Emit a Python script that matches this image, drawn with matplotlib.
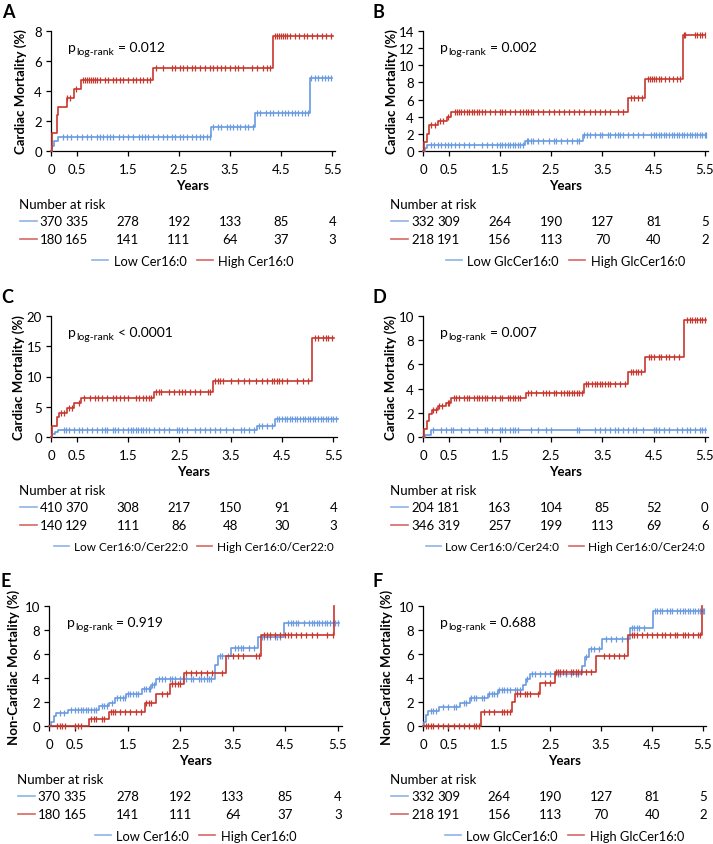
import numpy as np
import matplotlib
matplotlib.use('Agg')
import matplotlib.pyplot as plt
from matplotlib import transforms
from matplotlib.lines import Line2D

plt.rcParams['font.family'] = ['Lato', 'DejaVu Sans']

RED = '#C8372D'
BLUE = '#6A9AE0'

# ---------------- data ----------------
x_ticks = [0, 0.5, 1.5, 2.5, 3.5, 4.5, 5.5]
x_tick_labels = ['0', '0.5', '1.5', '2.5', '3.5', '4.5', '5.5']

# Panel A
a_low_t = [0, 0.02, 0.06, 0.13, 3.12, 3.98, 5.06, 5.50]
a_low_y = [0, 0.35, 0.65, 0.95, 1.6, 2.55, 4.85, 4.85]
a_low_c = [0.24, 0.31, 0.40, 0.50, 0.60, 0.70, 0.79, 0.89, 0.96, 1.02, 1.09, 1.15, 1.22, 1.32, 1.41,
           1.51, 1.61, 1.71, 1.77, 1.84, 1.90, 2.00, 2.10, 2.19, 2.26, 2.36, 2.42, 2.52, 2.58, 2.65,
           2.75, 2.84, 2.91, 2.98, 3.04, 3.11, 3.17, 3.27, 3.33, 3.43, 3.50, 3.56, 3.63, 3.69, 3.79,
           3.85, 3.95, 4.02, 4.08, 4.21, 4.28, 4.34, 4.44, 4.51, 4.57, 4.64, 4.70, 4.77, 4.83, 4.90,
           4.96, 5.03, 5.09, 5.16, 5.22, 5.29, 5.35, 5.42, 5.48]
a_high_t = [0, 0.02, 0.11, 0.14, 0.31, 0.45, 0.59, 2.00, 4.34, 5.51]
a_high_y = [0, 1.2, 2.4, 2.95, 3.55, 4.15, 4.75, 5.55, 7.7, 7.7]
a_high_c = [0.31, 0.37, 0.49, 0.62, 0.66, 0.70, 0.74, 0.78, 0.82, 0.86, 0.89, 0.96, 1.05, 1.12, 1.22,
            1.28, 1.35, 1.41, 1.51, 1.61, 1.67, 1.74, 1.80, 1.87, 1.93, 2.06, 2.19, 2.36, 2.42, 2.52,
            2.58, 2.65, 2.75, 2.81, 2.91, 3.01, 3.11, 3.17, 3.24, 3.33, 3.40, 3.50, 3.59, 3.66, 3.76,
            3.92, 4.02, 4.15, 4.22, 4.28, 4.38, 4.42, 4.46, 4.50, 4.54, 4.58, 4.62, 4.68, 4.77, 4.85,
            4.94, 5.00, 5.10, 5.19, 5.29, 5.38, 5.47]
a_low_risk = [370, 335, 278, 192, 133, 85, 4]
a_high_risk = [180, 165, 141, 111, 64, 37, 3]

# Panel B
b_low_t = [0, 0.03, 0.07, 1.99, 3.12, 5.53]
b_low_y = [0, 0.4, 0.75, 1.2, 1.9, 1.9]
b_low_c = [0.15, 0.22, 0.30, 0.36, 0.42, 0.48, 0.55, 0.62, 0.70, 0.80, 0.90, 1.00, 1.15, 1.25, 1.35,
           1.45, 1.50, 1.55, 1.60, 1.65, 1.70, 1.75, 1.80, 1.85, 1.90, 1.95, 2.02, 2.05, 2.10, 2.15,
           2.25, 2.35, 2.45, 2.55, 2.60, 2.70, 2.80, 2.90, 3.00, 3.05, 3.15, 3.20, 3.25, 3.35, 3.45,
           3.50, 3.60, 3.65, 3.75, 3.80, 3.85, 3.90, 4.00, 4.10, 4.20, 4.30, 4.45, 4.50, 4.55, 4.60,
           4.65, 4.70, 4.75, 4.80, 4.85, 4.90, 4.95, 5.00, 5.05, 5.10, 5.15, 5.20, 5.25, 5.30, 5.35,
           5.40, 5.45, 5.50, 5.53]
b_high_t = [0, 0.01, 0.08, 0.11, 0.29, 0.46, 0.55, 4.00, 4.33, 5.08, 5.50]
b_high_y = [0, 1.1, 2.0, 3.0, 3.5, 4.0, 4.55, 6.2, 8.35, 13.5, 13.5]
b_high_c = [0.16, 0.23, 0.33, 0.39, 0.49, 0.62, 0.66, 0.70, 0.75, 0.80, 0.85, 0.90, 0.95, 1.00, 1.05,
            1.10, 1.15, 1.20, 1.30, 1.40, 1.50, 1.55, 1.60, 1.70, 1.80, 1.90, 1.95, 2.00, 2.05, 2.10,
            2.15, 2.25, 2.35, 2.45, 2.55, 2.65, 2.75, 2.85, 2.95, 3.05, 3.15, 3.25, 3.35, 3.45, 3.55,
            3.65, 3.80, 3.90, 4.05, 4.12, 4.20, 4.27, 4.38, 4.42, 4.46, 4.50, 4.55, 4.60, 4.65, 4.72,
            4.80, 4.88, 4.95, 5.02, 5.10, 5.12, 5.30, 5.35, 5.40, 5.45, 5.50]
b_low_risk = [332, 309, 264, 190, 127, 81, 5]
b_high_risk = [218, 191, 156, 113, 70, 40, 2]

# Panel C
c_low_t = [0, 0.02, 0.07, 0.14, 4.02, 4.36, 5.58]
c_low_y = [0, 0.5, 0.9, 1.1, 1.9, 3.0, 3.0]
c_low_c = [0.25, 0.30, 0.35, 0.45, 0.55, 0.60, 0.70, 0.80, 0.90, 1.00, 1.05, 1.10, 1.20, 1.25, 1.30,
           1.40, 1.50, 1.55, 1.60, 1.65, 1.70, 1.75, 1.80, 1.85, 1.90, 2.00, 2.10, 2.20, 2.30, 2.45,
           2.50, 2.55, 2.65, 2.80, 2.90, 3.00, 3.10, 3.20, 3.30, 3.40, 3.55, 3.70, 3.75, 3.85, 3.95,
           4.05, 4.10, 4.20, 4.30, 4.40, 4.45, 4.50, 4.55, 4.60, 4.65, 4.70, 4.75, 4.80, 4.85, 4.90,
           4.95, 5.00, 5.05, 5.10, 5.15, 5.20, 5.25, 5.30, 5.35, 5.40, 5.45, 5.50, 5.55]
c_high_t = [0, 0.01, 0.11, 0.15, 0.31, 0.45, 0.59, 2.00, 3.15, 5.09, 5.52]
c_high_y = [0, 1.8, 3.3, 4.0, 4.8, 5.6, 6.4, 7.4, 9.2, 16.3, 16.3]
c_high_c = [0.20, 0.25, 0.35, 0.40, 0.55, 0.65, 0.75, 0.85, 0.92, 1.00, 1.10, 1.20, 1.27, 1.35, 1.42,
            1.50, 1.65, 1.72, 1.80, 1.85, 1.90, 1.95, 2.05, 2.10, 2.15, 2.30, 2.40, 2.50, 2.55, 2.60,
            2.70, 2.80, 2.90, 3.05, 3.10, 3.20, 3.25, 3.30, 3.35, 3.50, 3.65, 3.75, 3.85, 4.00, 4.10,
            4.20, 4.30, 4.35, 4.40, 4.45, 4.50, 4.60, 4.80, 4.90, 5.00, 5.15, 5.20, 5.30, 5.35, 5.40,
            5.48]
c_low_risk = [410, 370, 308, 217, 150, 91, 4]
c_high_risk = [140, 129, 111, 86, 48, 30, 3]

# Panel D
d_low_t = [0, 0.03, 0.15, 5.53]
d_low_y = [0, 0.15, 0.6, 0.6]
d_low_c = [0.20, 0.35, 0.45, 0.55, 0.58, 0.75, 0.90, 1.05, 1.20, 1.25, 1.35, 1.50, 1.55, 1.60, 1.70,
           1.75, 1.80, 1.85, 2.10, 2.25, 2.40, 2.50, 3.00, 3.05, 3.35, 3.45, 3.55, 3.65, 3.75, 3.80,
           3.90, 4.00, 4.10, 4.15, 4.30, 4.50, 4.55, 4.60, 4.70, 4.80, 4.95, 5.05, 5.15, 5.20, 5.30,
           5.40, 5.45, 5.50]
d_high_t = [0, 0.01, 0.07, 0.11, 0.18, 0.29, 0.44, 0.55, 2.00, 3.14, 4.00, 4.33, 5.09, 5.53]
d_high_y = [0, 0.7, 1.3, 1.9, 2.2, 2.55, 2.85, 3.2, 3.6, 4.4, 5.4, 6.6, 9.65, 9.65]
d_high_c = [0.20, 0.25, 0.32, 0.38, 0.48, 0.50, 0.60, 0.65, 0.70, 0.80, 0.85, 0.90, 1.00, 1.05, 1.10,
            1.15, 1.20, 1.25, 1.35, 1.40, 1.50, 1.55, 1.65, 1.70, 1.75, 1.80, 1.85, 1.90, 2.05, 2.10,
            2.20, 2.35, 2.40, 2.45, 2.55, 2.60, 2.70, 2.75, 2.80, 2.85, 2.90, 2.95, 3.00, 3.05, 3.10,
            3.18, 3.22, 3.30, 3.35, 3.40, 3.45, 3.50, 3.55, 3.60, 3.65, 3.75, 3.85, 3.95, 4.05, 4.10,
            4.15, 4.20, 4.25, 4.40, 4.45, 4.50, 4.60, 4.65, 4.75, 4.80, 4.90, 5.00, 5.15, 5.20, 5.25,
            5.30, 5.35, 5.40, 5.45, 5.50]
d_low_risk = [204, 181, 163, 104, 85, 52, 0]
d_high_risk = [346, 319, 257, 199, 113, 69, 6]

# Panel E
e_low_t = [0, 0.03, 0.10, 0.14, 0.36, 0.95, 1.15, 1.25, 1.47, 1.77, 1.95, 2.04, 3.17, 3.22, 3.47,
           3.98, 4.47, 5.52]
e_low_y = [0, 0.3, 0.8, 1.05, 1.35, 1.65, 1.95, 2.3, 2.65, 3.05, 3.4, 3.9, 5.1, 5.8, 6.5, 7.45,
           8.6, 8.6]
e_low_c = [0.20, 0.28, 0.42, 0.50, 0.55, 0.60, 0.65, 0.70, 0.75, 0.80, 0.85, 0.90, 1.00, 1.05, 1.10,
           1.20, 1.30, 1.35, 1.40, 1.45, 1.50, 1.55, 1.60, 1.65, 1.70, 1.80, 1.85, 1.90, 1.93, 1.97,
           2.00, 2.10, 2.15, 2.20, 2.30, 2.35, 2.40, 2.50, 2.55, 2.60, 2.70, 2.75, 2.85, 2.90, 2.95,
           3.00, 3.05, 3.08, 3.25, 3.30, 3.40, 3.55, 3.60, 3.65, 3.70, 3.80, 3.90, 4.05, 4.10, 4.15,
           4.20, 4.30, 4.35, 4.40, 4.55, 4.60, 4.65, 4.70, 4.75, 4.85, 4.95, 5.00, 5.05, 5.10, 5.15,
           5.20, 5.25, 5.30, 5.35, 5.40, 5.45, 5.50]
e_high_t = [0, 0.76, 1.14, 1.82, 2.04, 2.30, 2.57, 3.38, 4.03, 5.42]
e_high_y = [0, 0.6, 1.2, 1.95, 2.7, 3.5, 4.45, 5.85, 7.55, 10.0]
e_high_c = [0.15, 0.20, 0.25, 0.30, 0.50, 0.55, 0.60, 0.80, 0.85, 0.90, 1.00, 1.05, 1.18, 1.22, 1.25,
            1.35, 1.45, 1.55, 1.65, 1.75, 1.85, 1.90, 1.95, 2.15, 2.25, 2.35, 2.40, 2.45, 2.50, 2.60,
            2.70, 2.80, 2.90, 3.00, 3.10, 3.30, 3.50, 3.60, 3.70, 3.95, 4.00, 4.10, 4.15, 4.20, 4.30,
            4.40, 4.50, 4.55, 4.60, 4.70, 4.80, 4.90, 5.00, 5.10, 5.30, 5.40]
e_low_risk = [370, 335, 278, 192, 133, 85, 4]
e_high_risk = [180, 165, 141, 111, 64, 37, 3]

# Panel F
f_low_t = [0, 0.02, 0.06, 0.10, 0.31, 0.73, 0.93, 1.27, 1.48, 1.97, 2.02, 2.10, 3.12, 3.19, 3.27,
           3.51, 4.06, 4.51, 5.53]
f_low_y = [0, 0.3, 0.9, 1.25, 1.55, 1.9, 2.3, 2.65, 3.0, 3.45, 3.9, 4.35, 5.0, 5.75, 6.45, 7.25,
           8.2, 9.55, 9.55]
f_low_c = [0.15, 0.20, 0.25, 0.40, 0.50, 0.60, 0.65, 0.80, 0.85, 0.95, 1.00, 1.05, 1.15, 1.20, 1.30,
           1.35, 1.40, 1.45, 1.50, 1.55, 1.60, 1.65, 1.70, 1.80, 1.85, 1.90, 2.05, 2.15, 2.20, 2.30,
           2.40, 2.50, 2.60, 2.65, 2.70, 2.80, 2.90, 3.00, 3.05, 3.20, 3.30, 3.35, 3.45, 3.60, 3.70,
           3.80, 3.90, 4.00, 4.10, 4.15, 4.20, 4.25, 4.35, 4.55, 4.60, 4.65, 4.70, 4.80, 4.85, 4.90,
           5.00, 5.05, 5.10, 5.15, 5.20, 5.25, 5.30, 5.35, 5.40, 5.45, 5.50, 5.53]
f_high_t = [0, 1.14, 1.74, 1.80, 2.30, 2.59, 3.40, 4.03, 5.48]
f_high_y = [0, 1.2, 2.0, 2.7, 3.55, 4.5, 5.85, 7.55, 10.0]
f_high_c = [0.05, 0.10, 0.15, 0.20, 0.30, 0.40, 0.50, 0.60, 0.70, 0.80, 0.90, 1.00, 1.05, 1.10, 1.20,
            1.30, 1.40, 1.55, 1.60, 1.65, 1.70, 1.85, 1.90, 2.00, 2.05, 2.10, 2.25, 2.40, 2.50, 2.62,
            2.65, 2.70, 2.75, 2.80, 2.90, 2.95, 3.00, 3.05, 3.10, 3.20, 3.30, 3.55, 3.65, 3.75, 3.85,
            3.95, 4.10, 4.15, 4.20, 4.30, 4.40, 4.50, 4.60, 4.70, 4.75, 4.85, 4.95, 5.00, 5.10, 5.15,
            5.20, 5.30, 5.40, 5.45]
f_low_risk = [332, 309, 264, 190, 127, 81, 5]
f_high_risk = [218, 191, 156, 113, 70, 40, 2]

p_values = ['= 0.012', '= 0.002', '< 0.0001', '= 0.007', '= 0.919', '= 0.688']
legend_low = ['Low Cer16:0', 'Low GlcCer16:0', 'Low Cer16:0/Cer22:0', 'Low Cer16:0/Cer24:0',
              'Low Cer16:0', 'Low GlcCer16:0']
legend_high = ['High Cer16:0', 'High GlcCer16:0', 'High Cer16:0/Cer22:0', 'High Cer16:0/Cer24:0',
               'High Cer16:0', 'High GlcCer16:0']
y_labels = ['Cardiac Mortality (%)'] * 4 + ['Non-Cardiac Mortality (%)'] * 2
y_ticks = [[0, 2, 4, 6, 8], [0, 2, 4, 6, 8, 10, 12, 14], [0, 5, 10, 15, 20],
           [0, 2, 4, 6, 8, 10], [0, 2, 4, 6, 8, 10], [0, 2, 4, 6, 8, 10]]
letters = ['A', 'B', 'C', 'D', 'E', 'F']

# ---------------- layout ----------------
W, H = 713, 845
fig = plt.figure(figsize=(W / 100, H / 100), dpi=100)

def fx(px):
    return px / W

def fy(py):
    return 1 - py / H

# ylab: offset (px) of the label's right edge from the axis spine
layout = [
    dict(box=(51, 32, 335, 152), xmax=5.55, ylab=-24, letter=(2, 4), nar=19, lfs=9.3),
    dict(box=(423, 32, 708, 152), xmax=5.56, ylab=-25, letter=(372, 4), nar=390, lfs=9.3),
    dict(box=(51, 317, 337, 438), xmax=5.57, ylab=-26, letter=(1, 289), nar=19, lfs=8.5),
    dict(box=(423, 317, 708, 438), xmax=5.56, ylab=-26, letter=(372, 289), nar=390, lfs=8.5),
    dict(box=(49, 607, 342, 727), xmax=5.58, ylab=-29, letter=(1, 573), nar=17, lfs=9.3),
    dict(box=(423, 607, 706, 727), xmax=5.56, ylab=-30, letter=(372, 573), nar=390, lfs=9.3),
]

curves = [
    (a_low_t, a_low_y, a_low_c, a_high_t, a_high_y, a_high_c, a_low_risk, a_high_risk),
    (b_low_t, b_low_y, b_low_c, b_high_t, b_high_y, b_high_c, b_low_risk, b_high_risk),
    (c_low_t, c_low_y, c_low_c, c_high_t, c_high_y, c_high_c, c_low_risk, c_high_risk),
    (d_low_t, d_low_y, d_low_c, d_high_t, d_high_y, d_high_c, d_low_risk, d_high_risk),
    (e_low_t, e_low_y, e_low_c, e_high_t, e_high_y, e_high_c, e_low_risk, e_high_risk),
    (f_low_t, f_low_y, f_low_c, f_high_t, f_high_y, f_high_c, f_low_risk, f_high_risk),
]

FS = 9


def draw_km(ax, t, y, c, color):
    t = np.asarray(t, float)
    y = np.asarray(y, float)
    ax.step(t, y, where='post', color=color, lw=1.2, clip_on=False, zorder=3)
    c = np.asarray(c, float)
    idx = np.searchsorted(t, c, side='right') - 1
    ax.plot(c, y[idx], ls='none', marker='|', ms=4.5, mew=0.9, color=color,
            clip_on=False, zorder=3)


for i in range(6):
    L, T, R, B = layout[i]['box']
    ax = fig.add_axes([fx(L), fy(B), (R - L) / W, (B - T) / H])
    lt, ly, lc, ht, hy, hc, lr, hr = curves[i]
    draw_km(ax, lt, ly, lc, BLUE)
    draw_km(ax, ht, hy, hc, RED)
    ax.set_xlim(0, layout[i]['xmax'])
    ax.set_ylim(0, y_ticks[i][-1])
    ax.set_xticks(x_ticks)
    ax.set_xticklabels(x_tick_labels)
    ax.set_yticks(y_ticks[i])
    for s in ['top', 'right']:
        ax.spines[s].set_visible(False)
    for s in ['left', 'bottom']:
        ax.spines[s].set_linewidth(0.9)
    ax.tick_params(direction='out', length=3.5, width=0.9, labelsize=FS + 0.5)
    ax.tick_params(axis='x', pad=5)
    ax.tick_params(axis='y', pad=3)
    ax.set_ylabel(y_labels[i], fontsize=FS + 0.5, fontweight='bold')
    ax.yaxis.set_label_coords(layout[i]['ylab'] / (R - L), 0.5)

    # p-value
    t1 = ax.text(0.06, 0.835, 'p', transform=ax.transAxes, fontsize=FS + 1, va='baseline')
    t2 = ax.annotate('log-rank', xy=(1, 0.835), xycoords=(t1, 'axes fraction'),
                     xytext=(0.3, -2.5), textcoords='offset points', fontsize=FS - 1.5,
                     va='baseline', ha='left')
    ax.annotate(p_values[i], xy=(1, 0.835), xycoords=(t2, 'axes fraction'),
                xytext=(2.5, 0), textcoords='offset points', fontsize=FS + 1,
                va='baseline', ha='left')

    # panel letter
    lx, ly_ = layout[i]['letter']
    fig.text(fx(lx), fy(ly_), letters[i], fontsize=13, fontweight='bold', va='top', ha='left')

    # Years label
    cx = (L + R) / 2
    fig.text(fx(cx), fy(B + 34), 'Years', fontsize=FS + 0.5, fontweight='bold',
             ha='center', va='center')

    # Number at risk
    nx = layout[i]['nar']
    fig.text(fx(nx), fy(B + 53), 'Number at risk', fontsize=FS + 0.5, ha='left', va='center')
    tr = transforms.blended_transform_factory(ax.transData, fig.transFigure)
    for row, (vals, col) in enumerate([(lr, BLUE), (hr, RED)]):
        yy = fy(B + 70 + 18 * row)
        fig.add_artist(Line2D([fx(nx + 1), fx(nx + 18)], [yy, yy], color=col, lw=1.2, alpha=0.75,
                              transform=fig.transFigure))
        for xv, v in zip(x_ticks, vals):
            fig.text(xv, yy, str(v), transform=tr, fontsize=FS + 0.5, ha='center', va='center')

    # Legend
    handles = [Line2D([], [], color=BLUE, lw=1.2, alpha=0.75),
               Line2D([], [], color=RED, lw=1.2, alpha=0.75)]
    fig.legend(handles, [legend_low[i], legend_high[i]], loc='center',
               bbox_to_anchor=(fx(cx), fy(B + 110)), ncol=2, frameon=False,
               fontsize=layout[i]['lfs'], handlelength=1.25, columnspacing=0.8,
               handletextpad=0.4, borderpad=0, borderaxespad=0)

fig.savefig('out.png', dpi=100)
